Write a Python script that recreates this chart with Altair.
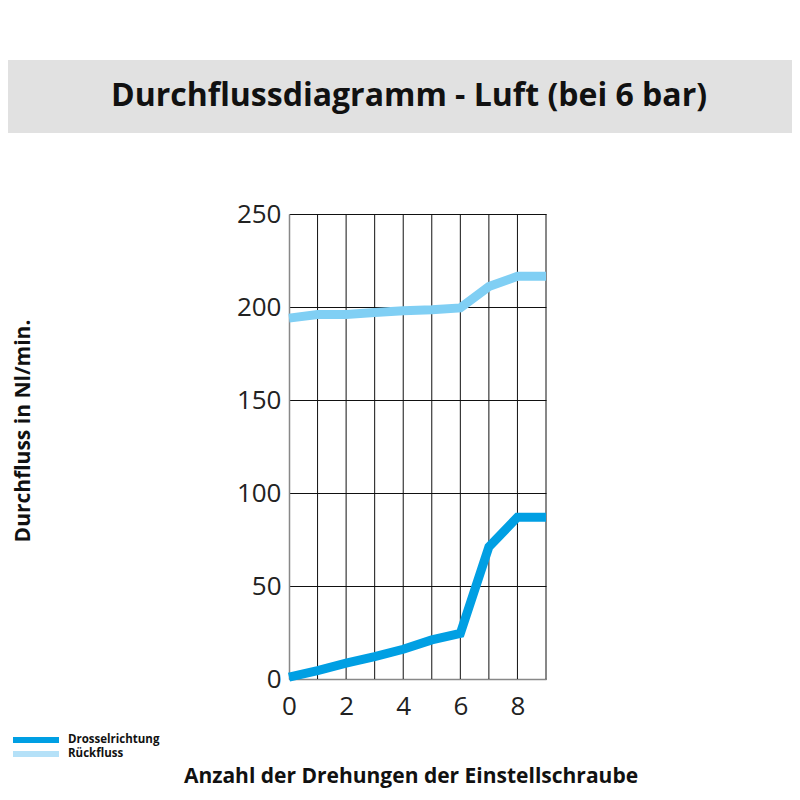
import pandas as pd
import altair as alt

# Drehungen der Einstellschraube
turns = [0, 1, 2, 3, 4, 5, 6, 7, 8, 9]
# Durchfluss in Nl/min
drossel = [1, 4.5, 8.5, 12, 16, 21, 24.5, 71, 87, 87]
rueck = [194, 196, 196, 197, 198, 198.5, 199.5, 211, 216.5, 216.5]

series_names = ["Drosselrichtung", "Rückfluss"]
series_colors = ["#009FE3", "#80CFF4"]
legend_colors = ["#009FE3", "#B5E1F8"]

title_text = "Durchflussdiagramm - Luft (bei 6 bar)"
x_title = "Anzahl der Drehungen der Einstellschraube"
y_title = "Durchfluss in Nl/min."

df = pd.DataFrame({
    "turns": turns * 2,
    "flow": drossel + rueck,
    "series": [series_names[0]] * len(turns) + [series_names[1]] * len(turns),
})

W, H = 257, 465
FONT = "Open Sans"

lines = alt.Chart(df).mark_line(strokeWidth=9, strokeJoin="miter", strokeCap="butt").encode(
    x=alt.X("turns:Q", scale=alt.Scale(domain=[0, 9], nice=False),
            axis=alt.Axis(values=[0, 2, 4, 6, 8], title=None, labelFontSize=26,
                          labelFont=FONT, labelColor="#222", labelPadding=14,
                          labelFlush=False, ticks=False, domainColor="#888",
                          domainWidth=1.5, grid=False)),
    y=alt.Y("flow:Q", scale=alt.Scale(domain=[0, 250], nice=False),
            axis=alt.Axis(values=[0, 50, 100, 150, 200, 250], title=None,
                          labelFontSize=26, labelFont=FONT, labelColor="#222",
                          labelPadding=8, labelFlush=False, ticks=False,
                          domainColor="#888", domainWidth=1.5, gridColor="#111",
                          gridOpacity=1, gridWidth=1)),
    color=alt.Color("series:N", scale=alt.Scale(domain=series_names, range=series_colors),
                    legend=None),
    detail="series:N",
)

# vertical grid lines at every turn
vgrid = alt.Chart(pd.DataFrame({"t": turns[1:]})).mark_rule(color="#111", strokeWidth=1).encode(
    x="t:Q"
)

band = alt.Chart(pd.DataFrame({"a": [0]})).mark_rect(color="#E1E1E1").encode(
    x=alt.value(-289), x2=alt.value(515), y=alt.value(-154), y2=alt.value(-81)
)

title = alt.Chart(pd.DataFrame({"t": [title_text]})).mark_text(
    font=FONT, fontSize=32, fontWeight="bold", color="#111", align="center", baseline="middle"
).encode(text="t:N", x=alt.value(120), y=alt.value(-118))

xt = alt.Chart(pd.DataFrame({"t": [x_title]})).mark_text(
    font=FONT, fontSize=21, fontWeight="bold", color="#111", align="center", baseline="middle"
).encode(text="t:N", x=alt.value(122), y=alt.value(563))

yt = alt.Chart(pd.DataFrame({"t": [y_title]})).mark_text(
    font=FONT, fontSize=21, fontWeight="bold", color="#111", align="center",
    baseline="middle", angle=270
).encode(text="t:N", x=alt.value(-265), y=alt.value(217))

leg_df = pd.DataFrame({"name": series_names, "color": legend_colors,
                       "yy": [526, 540]})
leg_lines = alt.Chart(leg_df).mark_rule(strokeWidth=6).encode(
    x=alt.value(-276), x2=alt.value(-230),
    y=alt.Y("yy:Q", scale=None),
    color=alt.Color("color:N", scale=None),
)
leg_text = alt.Chart(leg_df).mark_text(
    font=FONT, fontSize=11.5, fontWeight="bold", color="#111", align="left", baseline="middle"
).encode(x=alt.value(-221), y=alt.Y("yy:Q", scale=None), text="name:N")

chart = alt.layer(band, title, vgrid, lines, xt, yt, leg_lines, leg_text).properties(
    width=W, height=H,
    padding={"left": 281, "top": 206, "right": 246, "bottom": 113},
    autosize=alt.AutoSizeParams(type="none"),
).configure_view(stroke=None).resolve_scale(color="independent")

chart.save("out.html", embed_options={"renderer": "svg", "actions": False})
